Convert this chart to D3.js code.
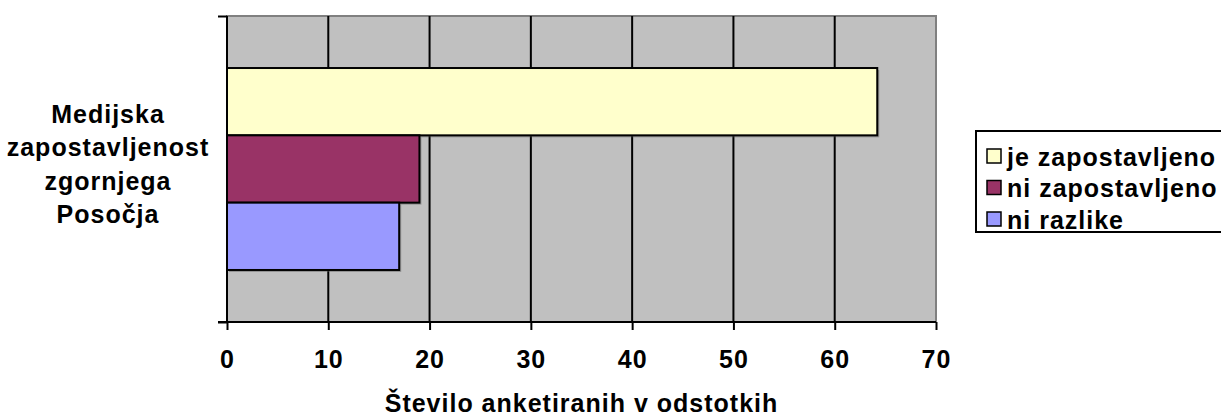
<!DOCTYPE html>
<html lang="sl">
<head>
<meta charset="utf-8">
<title>Medijska zapostavljenost</title>
<script src="https://cdn.jsdelivr.net/npm/d3@7"></script>
<style>
  body { margin: 0; background: #fff; }
  svg text { font-family: "Liberation Sans", Arial, sans-serif; font-weight: bold; fill: #000; letter-spacing: 1px; }
</style>
</head>
<body>
<script>
var w = 1221, h = 417;

var categoryLines = ["Medijska", "zapostavljenost", "zgornjega", "Posočja"];
var seriesNames = ["je zapostavljeno", "ni zapostavljeno", "ni razlike"];
var seriesValues = [64.2, 19, 17];
var seriesColors = ["#ffffcc", "#993366", "#9999ff"];
var xTicks = [0, 10, 20, 30, 40, 50, 60, 70];
var xTitle = "Število anketiranih v odstotkih";

var plot = { left: 227, top: 16, right: 936, bottom: 322 };

var xScale = d3.scaleLinear().domain([0, 70]).range([plot.left, plot.right]);

// one category, bars take the middle of the band (gap width 150%)
var yScale = d3.scaleBand().domain(["cat"]).range([plot.top, plot.bottom]).paddingOuter(0);
var barScale = d3.scaleBand().domain(d3.range(seriesValues.length))
  .range([yScale("cat") + yScale.bandwidth() * 0.17, yScale("cat") + yScale.bandwidth() * 0.83]);

var svg = d3.select("body").append("svg").attr("width", w).attr("height", h);

svg.append("rect")
  .attr("x", plot.left).attr("y", plot.top)
  .attr("width", plot.right - plot.left).attr("height", plot.bottom - plot.top)
  .attr("fill", "#c0c0c0").attr("stroke", "#808080").attr("stroke-width", 2);

// vertical gridlines
svg.selectAll("line.grid")
  .data(xTicks.slice(1, -1))
  .enter().append("line")
  .attr("class", "grid")
  .attr("x1", function(d) { return xScale(d); })
  .attr("x2", function(d) { return xScale(d); })
  .attr("y1", plot.top).attr("y2", plot.bottom)
  .attr("stroke", "#000").attr("stroke-width", 2);

// bar shadows
svg.selectAll("rect.shadow")
  .data(seriesValues)
  .enter().append("rect")
  .attr("class", "shadow")
  .attr("x", xScale(0) + 2)
  .attr("y", function(d, i) { return barScale(i) + 2; })
  .attr("width", function(d) { return xScale(d) - xScale(0); })
  .attr("height", barScale.bandwidth())
  .attr("fill", "#5a5a5a").attr("opacity", 0.45);

svg.selectAll("rect.bar")
  .data(seriesValues)
  .enter().append("rect")
  .attr("class", "bar")
  .attr("x", xScale(0))
  .attr("y", function(d, i) { return barScale(i); })
  .attr("width", function(d) { return xScale(d) - xScale(0); })
  .attr("height", barScale.bandwidth())
  .attr("fill", function(d, i) { return seriesColors[i]; })
  .attr("stroke", "#000").attr("stroke-width", 2);

// x axis
var xAxis = d3.axisBottom(xScale).tickValues(xTicks).tickSize(8).tickPadding(20);
var gx = svg.append("g")
  .attr("transform", "translate(0," + plot.bottom + ")")
  .call(xAxis);
gx.select(".domain").attr("stroke-width", 2).attr("d", "M" + (plot.left - 9) + ",0H" + plot.right);
gx.selectAll(".tick line").attr("stroke-width", 2);
gx.selectAll(".tick text").style("font-size", "25px");

// y axis
var yAxis = d3.axisLeft(d3.scaleLinear().domain([0, 1]).range([plot.bottom, plot.top]))
  .tickValues([0, 1]).tickSize(9).tickFormat("");
var gy = svg.append("g")
  .attr("transform", "translate(" + plot.left + ",0)")
  .call(yAxis);
gy.select(".domain").attr("stroke-width", 2).attr("d", "M0," + plot.top + "V" + plot.bottom);
gy.selectAll(".tick line").attr("stroke-width", 2);

// category label
svg.append("text")
  .attr("text-anchor", "middle")
  .style("font-size", "25px")
  .selectAll("tspan")
  .data(categoryLines)
  .enter().append("tspan")
  .attr("x", 108)
  .attr("y", function(d, i) { return 123 + i * 33.3; })
  .text(function(d) { return d; });

// axis title
svg.append("text")
  .attr("x", (plot.left + plot.right) / 2)
  .attr("y", 412)
  .attr("text-anchor", "middle")
  .style("font-size", "25px")
  .text(xTitle);

// legend
var legend = svg.append("g");
legend.append("rect")
  .attr("x", 976).attr("y", 131).attr("width", 260).attr("height", 101)
  .attr("fill", "#fff").attr("stroke", "#000").attr("stroke-width", 2);

var items = legend.selectAll("g.item")
  .data(seriesNames)
  .enter().append("g")
  .attr("class", "item")
  .attr("transform", function(d, i) { return "translate(987," + (149 + i * 31.5) + ")"; });

items.append("rect")
  .attr("x", 0).attr("y", 0).attr("width", 14).attr("height", 14)
  .attr("fill", function(d, i) { return seriesColors[i]; })
  .attr("stroke", "#000").attr("stroke-width", 1.5);

items.append("text")
  .attr("x", 20).attr("y", 8)
  .attr("dy", "0.35em")
  .style("font-size", "25px")
  .text(function(d) { return d; });
</script>
</body>
</html>
